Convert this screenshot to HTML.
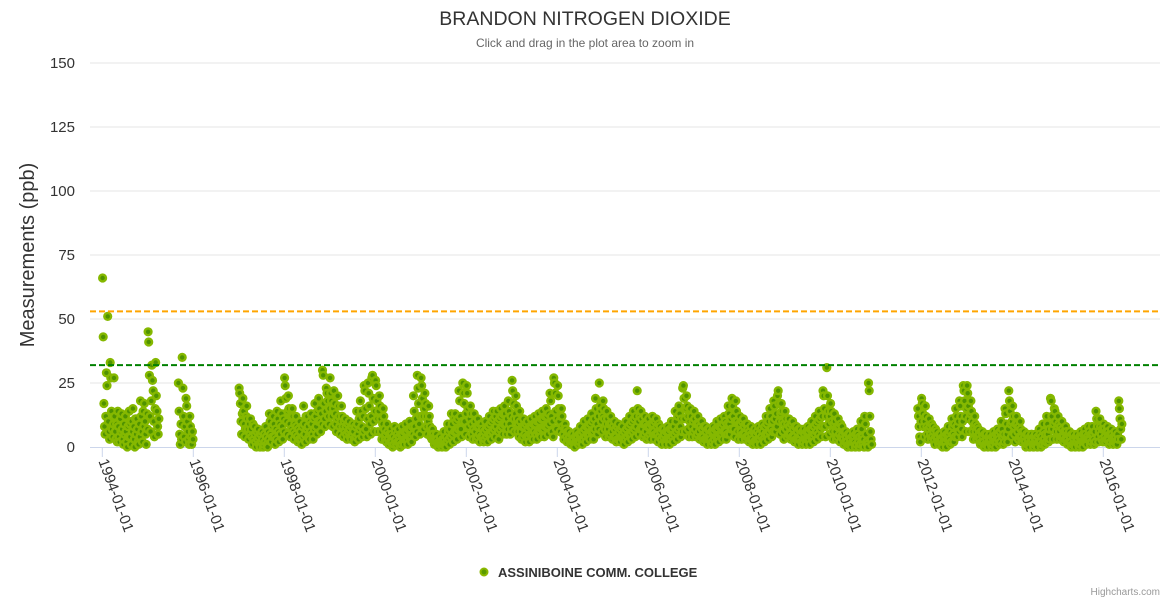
<!DOCTYPE html>
<html><head><meta charset="utf-8">
<style>
body{margin:0;background:#fff;font-family:"Liberation Sans",sans-serif;}
svg{display:block}
</style></head>
<body>
<svg id="chart" width="1170" height="600" xmlns="http://www.w3.org/2000/svg">
<text x="585" y="25" text-anchor="middle" font-size="19.5" fill="#333">BRANDON NITROGEN DIOXIDE</text>
<text x="585" y="47" text-anchor="middle" font-size="12" fill="#666">Click and drag in the plot area to zoom in</text>
<text transform="translate(34,255) rotate(-90)" text-anchor="middle" font-size="20" fill="#333">Measurements (ppb)</text>
<g id="grid"></g>
<g id="xaxis"></g>
<g id="plot"></g>
<g id="lines"></g>
<g>
<circle cx="484" cy="572" r="3.5" fill="#5a9a00" stroke="#8ab800" stroke-width="2"/>
<text x="498" y="577" font-size="13" font-weight="bold" fill="#333">ASSINIBOINE COMM. COLLEGE</text>
</g>
<text x="1160" y="595" text-anchor="end" font-size="10" fill="#999">Highcharts.com</text>
</svg>
<script>
const yTicks=[0,25,50,75,100,125,150];
const xTickYears=[1994,1996,1998,2000,2002,2004,2006,2008,2010,2012,2014,2016];
const thresholdOrange=53;
const thresholdGreen=32;
const monthlyValues=[
"1994-01:66,43,17,8,5,12","1994-02:29,24,51,10,6,3","1994-03:33,27,14,7,4,9","1994-04:27,12,6,3,9,2","1994-05:14,8,4,2,11,6","1994-06:13,7,3,1,9,5","1994-07:12,6,2,0,8,4","1994-08:14,9,4,1,10,6","1994-09:15,8,3,0,11,5","1994-10:11,7,2,1,9,4","1994-11:18,12,6,2,14,8","1994-12:17,10,5,1,13,7",
"1995-01:45,41,28,12,6,18","1995-02:32,26,22,10,4,15","1995-03:33,20,14,8,5,11",
"1995-09:25,14,5,1,9,3","1995-10:35,23,12,4,8,2","1995-11:19,16,10,6,3,1","1995-12:12,8,4,1,6,3",
"1997-01:23,21,17,10,5,13","1997-02:19,14,9,4,7,12","1997-03:16,11,7,3,9,5","1997-04:11,7,4,1,9,3","1997-05:8,5,2,0,6,3","1997-06:7,4,1,0,5,2","1997-07:6,3,0,1,5,2","1997-08:8,4,1,0,6,3","1997-09:13,10,5,2,8,4","1997-10:12,9,4,1,7,3","1997-11:14,11,6,2,9,5","1997-12:18,13,8,3,11,6",
"1998-01:27,24,19,10,5,14","1998-02:20,15,9,4,12,7","1998-03:15,12,6,3,9,5","1998-04:12,8,4,2,7,3","1998-05:10,6,3,1,8,4","1998-06:16,9,5,2,12,7","1998-07:12,8,4,3,10,6","1998-08:13,9,5,3,11,7","1998-09:17,12,8,5,14,10","1998-10:19,15,10,6,13,9","1998-11:30,28,17,11,8,14","1998-12:23,21,18,12,9,15",
"1999-01:27,21,18,12,8,15","1999-02:22,17,13,9,6,11","1999-03:20,16,12,8,5,10","1999-04:16,12,8,4,10,6","1999-05:11,8,5,3,9,6","1999-06:10,7,4,3,8,5","1999-07:9,6,3,2,8,4","1999-08:14,9,5,3,11,7","1999-09:18,14,8,4,12,6","1999-10:24,22,15,7,4,11","1999-11:25,21,16,9,5,12","1999-12:27,28,19,10,6,14",
"2000-01:26,24,18,11,6,14","2000-02:20,16,11,6,3,9","2000-03:15,12,7,3,5,2","2000-04:9,6,3,1,5,2","2000-05:7,5,2,0,4,1","2000-06:8,6,3,1,5,2","2000-07:7,4,2,0,5,1","2000-08:8,5,2,1,6,3","2000-09:9,6,3,1,7,4","2000-10:10,7,4,2,8,5","2000-11:20,14,8,4,11,6","2000-12:28,23,17,9,5,12",
"2001-01:27,24,19,12,7,15","2001-02:21,17,12,8,5,10","2001-03:16,12,8,4,6,3","2001-04:7,5,3,1,4,2","2001-05:5,3,1,0,2,1","2001-06:4,2,1,0,3,1","2001-07:6,3,1,0,4,2","2001-08:9,6,3,1,7,4","2001-09:13,9,5,2,11,6","2001-10:13,10,6,3,11,7","2001-11:22,18,12,7,4,10","2001-12:25,21,17,10,5,13",
"2002-01:24,21,15,8,4,11","2002-02:16,13,9,5,3,7","2002-03:13,10,6,3,8,4","2002-04:11,8,5,2,9,4","2002-05:9,7,4,2,6,3","2002-06:10,7,4,2,8,5","2002-07:12,9,5,3,10,6","2002-08:14,11,7,4,12,8","2002-09:14,10,6,3,11,7","2002-10:15,12,8,5,13,9","2002-11:16,13,9,5,11,7","2002-12:18,14,9,5,12,7",
"2003-01:26,22,17,11,6,13","2003-02:20,16,11,6,9,4","2003-03:14,10,6,3,8,4","2003-04:11,8,5,2,9,4","2003-05:10,7,4,2,8,5","2003-06:11,8,5,3,9,6","2003-07:12,9,5,3,10,6","2003-08:13,10,6,4,11,7","2003-09:14,11,7,4,12,8","2003-10:15,12,8,5,13,9","2003-11:21,18,12,6,10,4","2003-12:27,25,21,14,7,11",
"2004-01:24,20,15,10,6,12","2004-02:15,12,8,5,3,7","2004-03:9,7,4,2,6,3","2004-04:6,4,2,1,5,2","2004-05:5,3,1,0,4,2","2004-06:6,4,2,1,5,2","2004-07:8,5,3,1,6,3","2004-08:10,7,4,2,8,5","2004-09:11,8,5,3,9,6","2004-10:13,10,6,3,11,7","2004-11:19,15,9,5,12,7","2004-12:25,16,14,10,6,12",
"2005-01:18,15,11,7,4,9","2005-02:14,11,7,4,9,5","2005-03:12,9,6,3,8,4","2005-04:10,7,4,2,8,3","2005-05:9,6,3,2,7,4","2005-06:8,5,3,1,6,3","2005-07:10,7,4,2,8,5","2005-08:12,9,5,3,10,6","2005-09:14,11,7,4,12,8","2005-10:22,15,10,5,12,7","2005-11:14,11,7,4,9,5","2005-12:12,9,6,3,8,4",
"2006-01:11,8,5,3,9,6","2006-02:12,9,6,3,10,5","2006-03:11,8,5,2,9,4","2006-04:8,6,3,1,7,4","2006-05:7,5,2,1,6,3","2006-06:8,6,3,1,7,3","2006-07:10,7,4,2,8,5","2006-08:14,10,6,3,12,7","2006-09:16,13,8,4,11,6","2006-10:23,24,19,11,6,15","2006-11:20,16,12,7,4,10","2006-12:15,12,8,4,10,6",
"2007-01:14,11,7,4,9,5","2007-02:12,9,6,3,8,4","2007-03:10,7,4,2,8,3","2007-04:8,6,3,1,7,3","2007-05:7,5,3,1,6,2","2007-06:8,6,3,1,7,4","2007-07:10,7,4,2,8,5","2007-08:11,8,5,3,9,6","2007-09:12,10,6,3,9,5","2007-10:16,13,9,5,11,7","2007-11:19,16,12,7,4,10","2007-12:18,14,10,6,3,9",
"2008-01:12,9,6,3,10,5","2008-02:11,8,5,3,9,4","2008-03:9,7,4,2,6,3","2008-04:8,5,3,1,6,2","2008-05:7,5,2,1,6,3","2008-06:8,5,3,1,7,4","2008-07:9,6,3,2,8,5","2008-08:12,9,5,3,10,6","2008-09:15,12,7,4,10,6","2008-10:18,16,11,6,13,8","2008-11:20,22,17,10,5,13","2008-12:17,14,10,6,3,9",
"2009-01:14,11,7,4,9,5","2009-02:11,8,5,3,9,4","2009-03:10,7,4,2,8,3","2009-04:8,6,3,1,7,3","2009-05:7,5,2,1,6,2","2009-06:7,5,3,1,6,3","2009-07:8,6,3,1,7,4","2009-08:10,7,4,2,8,5","2009-09:12,9,6,3,10,5","2009-10:14,11,7,4,12,8","2009-11:22,20,15,8,4,12","2009-12:31,20,14,9,5,12",
"2010-01:17,14,10,6,3,9","2010-02:13,10,6,3,8,4","2010-03:11,8,5,2,9,4","2010-04:8,5,3,1,6,2","2010-05:6,4,2,0,5,1","2010-06:5,3,1,0,4,2","2010-07:6,4,2,0,5,1","2010-08:7,5,2,0,4,1","2010-09:10,7,4,1,3,0","2010-10:12,9,5,2,1,0","2010-11:25,22,12,6,3,1",
"2011-12:15,12,8,4,2,10",
"2012-01:19,17,13,8,4,10","2012-02:16,12,8,5,3,7","2012-03:11,8,5,3,9,4","2012-04:8,6,3,1,7,4","2012-05:6,4,2,1,5,2","2012-06:5,3,1,0,4,2","2012-07:6,4,2,0,5,3","2012-08:8,5,3,1,6,2","2012-09:11,8,5,2,9,4","2012-10:15,12,8,4,10,6","2012-11:18,16,12,7,4,10","2012-12:24,22,18,12,6,15",
"2013-01:24,21,16,11,6,13","2013-02:18,14,10,6,3,8","2013-03:12,9,6,3,8,4","2013-04:7,5,3,1,6,2","2013-05:6,4,2,0,5,1","2013-06:5,3,1,0,4,2","2013-07:5,3,1,0,4,1","2013-08:6,4,2,0,5,2","2013-09:7,5,3,1,6,2","2013-10:10,7,4,1,5,2","2013-11:15,13,9,5,2,7","2013-12:22,18,14,9,4,10",
"2014-01:16,12,8,5,2,9","2014-02:12,9,6,3,8,4","2014-03:10,7,4,2,6,3","2014-04:6,4,2,0,5,1","2014-05:5,3,1,0,4,2","2014-06:5,3,1,0,4,1","2014-07:5,3,1,0,4,2","2014-08:7,5,2,0,4,1","2014-09:9,6,3,1,5,2","2014-10:12,9,5,2,7,3","2014-11:19,18,12,7,3,9","2014-12:15,14,10,6,3,8",
"2015-01:12,9,6,3,8,4","2015-02:10,7,4,2,6,3","2015-03:8,6,3,1,5,2","2015-04:6,4,2,0,5,1","2015-05:5,3,1,0,4,2","2015-06:5,3,1,0,4,1","2015-07:6,4,2,0,5,2","2015-08:7,5,2,1,4,3","2015-09:8,6,3,1,5,2","2015-10:8,5,3,1,6,2","2015-11:14,11,8,4,2,6","2015-12:11,8,5,3,7,2",
"2016-01:9,7,4,2,6,3","2016-02:8,6,3,1,5,2","2016-03:7,5,3,1,4,2","2016-04:6,4,2,1,5,3","2016-05:18,15,11,7,3,9"
];
const NS="http://www.w3.org/2000/svg";
const X0=90,X1=1160,Y0=447,Y150=63;
function yScale(v){return Y0-(v/150)*(Y0-Y150);}
function xScale(t){return 102.3+(t-1994)*45.5;}
function mk(tag,attrs,parent){const e=document.createElementNS(NS,tag);for(const k in attrs)e.setAttribute(k,attrs[k]);parent.appendChild(e);return e;}
const grid=document.getElementById('grid');
yTicks.forEach(v=>{
  const y=yScale(v);
  if(v>0){const l=mk('line',{x1:X0,x2:X1,y1:y,y2:y,stroke:'#e6e6e6','stroke-width':1},grid);
  
  }
  const t=mk('text',{x:75,y:y+5,'text-anchor':'end','font-size':15,fill:'#333'},grid);
  t.textContent=v;
  
  
});
const xa=document.getElementById('xaxis');
const axl=mk('line',{x1:X0,x2:X1,y1:Y0+0.5,y2:Y0+0.5,stroke:'#ccd6eb'},xa);


xTickYears.forEach(yr=>{
  const x=xScale(yr);
  const tk=mk('line',{x1:x,x2:x,y1:Y0,y2:Y0+10,stroke:'#ccd6eb'},xa);
  
  
  const t=mk('text',{transform:`translate(${x-4},${Y0+14}) rotate(70)`,'font-size':15,fill:'#333'},xa);
  t.textContent=yr+'-01-01';
  
  
});
const plot=document.getElementById('plot');
monthlyValues.forEach(s=>{
  const [key,vals]=s.split(':');
  const [yy,mm]=key.split('-').map(Number);
  const arr=vals.split(',').map(Number);
  arr.forEach((v,i)=>{
    const t=yy+(mm-1)/12+(i+0.5)/arr.length/12;
    const c=mk('circle',{cx:xScale(t).toFixed(1),cy:yScale(v).toFixed(1),r:3.4,fill:'#4f9200',stroke:'#85b800','stroke-width':2.4},plot);
    
    
  });
});
const lines=document.getElementById('lines');
const lo=mk('line',{x1:X0,x2:X1,y1:yScale(thresholdOrange),y2:yScale(thresholdOrange),stroke:'#ffa500','stroke-width':2,'stroke-dasharray':'6,3'},lines);


const lg=mk('line',{x1:X0,x2:X1,y1:yScale(thresholdGreen),y2:yScale(thresholdGreen),stroke:'#008000','stroke-width':2,'stroke-dasharray':'6,3'},lines);


</script>
</body></html>
